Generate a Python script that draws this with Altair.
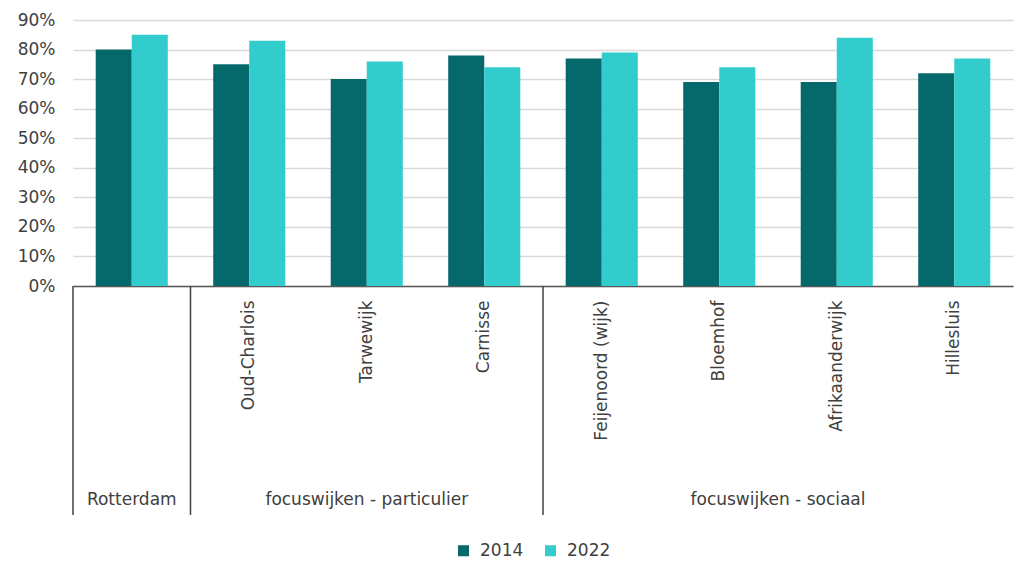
import altair as alt
import pandas as pd

# ---- data ----
categories = ["Rotterdam", "Oud-Charlois", "Tarwewijk", "Carnisse",
              "Feijenoord (wijk)", "Bloemhof", "Afrikaanderwijk", "Hillesluis"]
groups = ["Rotterdam", "focuswijken - particulier", "focuswijken - particulier",
          "focuswijken - particulier", "focuswijken - sociaal", "focuswijken - sociaal",
          "focuswijken - sociaal", "focuswijken - sociaal"]
years = ["2014", "2022"]
values_2014 = [0.80, 0.75, 0.70, 0.78, 0.77, 0.69, 0.69, 0.72]
values_2022 = [0.85, 0.83, 0.76, 0.74, 0.79, 0.74, 0.84, 0.77]
y_ticks = [0, 0.1, 0.2, 0.3, 0.4, 0.5, 0.6, 0.7, 0.8, 0.9]

# group dividers (start of each group) and group labels
divider_at = ["Rotterdam", "Oud-Charlois", "Feijenoord (wijk)"]
group_labels_mid = [("Rotterdam", "Rotterdam"), ("focuswijken - particulier", "Tarwewijk")]
group_labels_end = [("focuswijken - sociaal", "Bloemhof")]

colors = ["#05696b", "#33cccc"]
FONT = "DejaVu Sans"
TXT = "#404040"

rows = []
for c, g, a, b in zip(categories, groups, values_2014, values_2022):
    rows.append({"wijk": c, "groep": g, "jaar": years[0], "waarde": a})
    rows.append({"wijk": c, "groep": g, "jaar": years[1], "waarde": b})
df = pd.DataFrame(rows)

x_scale = alt.Scale(domain=categories, paddingInner=0, paddingOuter=0)

bars = alt.Chart(df).mark_bar().encode(
    x=alt.X("wijk:N", scale=x_scale, sort=categories, title=None,
            axis=alt.Axis(labelAngle=-90, labelAlign="right", labelBaseline="middle",
                          labelPadding=14, ticks=False, domain=True,
                          domainColor="#595959", domainWidth=1.5,
                          labelFont=FONT, labelFontSize=17, labelColor=TXT,
                          labelExpr="datum.value == 'Rotterdam' ? '' : datum.value")),
    xOffset=alt.XOffset("jaar:N", scale=alt.Scale(domain=years, paddingInner=0, paddingOuter=0.63)),
    y=alt.Y("waarde:Q", scale=alt.Scale(domain=[0, 0.9], nice=False), title=None,
            axis=alt.Axis(values=y_ticks, format=".0%", domain=False, ticks=False,
                          grid=True, gridColor="#d9d9d9", gridWidth=1.5,
                          labelFont=FONT, labelFontSize=17, labelColor=TXT,
                          labelPadding=18)),
    color=alt.Color("jaar:N", scale=alt.Scale(domain=years, range=colors),
                    legend=alt.Legend(title=None, orient="none", direction="horizontal",
                                      legendX=382, legendY=522, symbolType="square",
                                      symbolSize=121, symbolStrokeWidth=0,
                                      labelFont=FONT, labelFontSize=17, labelColor=TXT,
                                      labelOffset=8, columnPadding=18)),
)

div_df = pd.DataFrame({"wijk": divider_at})
dividers = alt.Chart(div_df).mark_rule(color="#404040", strokeWidth=1.5).encode(
    x=alt.X("wijk:N", scale=x_scale, sort=categories, bandPosition=0),
    y=alt.value(266),
    y2=alt.value(495),
)

gl1 = pd.DataFrame({"label": [g for g, _ in group_labels_mid],
                    "wijk": [a for _, a in group_labels_mid]})
gl2 = pd.DataFrame({"label": [g for g, _ in group_labels_end],
                    "wijk": [a for _, a in group_labels_end]})
gtext1 = alt.Chart(gl1).mark_text(font=FONT, fontSize=17, color=TXT, baseline="middle").encode(
    x=alt.X("wijk:N", scale=x_scale, sort=categories, bandPosition=0.5),
    y=alt.value(480),
    text="label:N",
)
gtext2 = alt.Chart(gl2).mark_text(font=FONT, fontSize=17, color=TXT, baseline="middle").encode(
    x=alt.X("wijk:N", scale=x_scale, sort=categories, bandPosition=1),
    y=alt.value(480),
    text="label:N",
)

chart = alt.layer(bars, dividers, gtext1, gtext2).properties(
    width=940, height=266,
    autosize=alt.AutoSizeParams(type="none"),
    padding={"left": 73, "top": 20, "right": 4, "bottom": 277},
    background="white",
).configure_view(stroke=None)

chart.save("out.html", embed_options={"renderer": "svg", "actions": False})
